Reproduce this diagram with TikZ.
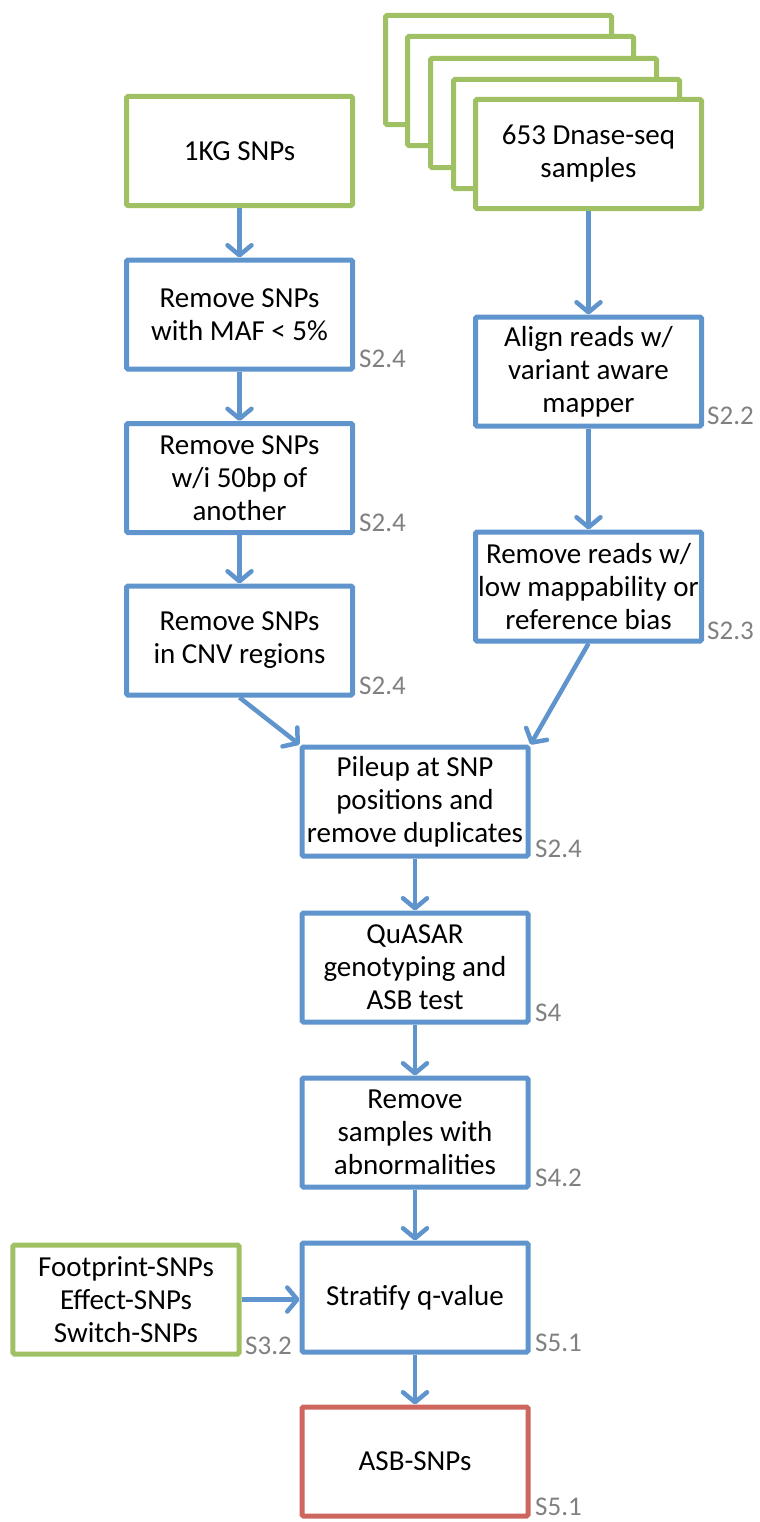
\documentclass[tikz,border=0pt]{standalone}
\usepackage{fontspec}
\setmainfont{Carlito}
\usetikzlibrary{arrows.meta}
\definecolor{bgreen}{RGB}{160,192,100}
\definecolor{bblue}{RGB}{96,148,204}
\definecolor{bred}{RGB}{206,102,96}
\definecolor{lblgray}{RGB}{128,128,128}
\tikzset{
 box/.style={draw=bblue, line width=5bp, fill=white, minimum width=226bp, minimum height=109bp, inner xsep=0pt, inner ysep=2bp, align=center, rounded corners=1.5bp, font=\fontsize{29bp}{33bp}\selectfont},
 gbox/.style={box, draw=bgreen},
 rbox/.style={box, draw=bred},
 flow/.style={draw=bblue, line width=4.5bp, -{Straight Barb[length=10bp,width=24bp,round]}},
 sec/.style={anchor=base west, text=lblgray, inner sep=0pt, font=\fontsize{27bp}{30bp}\selectfont},
}
\begin{document}
\begin{tikzpicture}[x=1bp,y=-1bp]
\useasboundingbox (0,0) rectangle (760,1522);
% left column
\node[gbox] (kg) at (239.5,151) {1KG SNPs};
\node[box] (maf) at (239.5,314.5) {Remove SNPs\\with MAF < 5\%};
\node[box] (w50) at (239.5,478) {Remove SNPs\\w/i 50bp of\\another};
\node[box] (cnv) at (239.5,640.5) {Remove SNPs\\in CNV regions};
% right column stack
\node[gbox] (s1) at (498.5,70) {};
\node[gbox] (s2) at (520.5,91) {};
\node[gbox] (s3) at (543.5,113) {};
\node[gbox] (s4) at (566.5,134) {};
\node[gbox] (dnase) at (588.5,154) {653 Dnase-seq\\samples};
\node[box] (align) at (588.5,371.5) {Align reads w/\\variant aware\\mapper};
\node[box] (reads) at (588.5,586.5) {Remove reads w/\\low mappability or\\reference bias};
% middle column
\node[box] (pileup) at (415,801.5) {Pileup at SNP\\positions and\\remove duplicates};
\node[box] (quasar) at (415,967.5) {QuASAR\\genotyping and\\ASB test};
\node[box] (samples) at (415,1132.5) {Remove\\samples with\\abnormalities};
\node[box] (strat) at (415,1297.5) {Stratify q-value};
\node[rbox] (asb) at (415,1461.5) {ASB-SNPs};
\node[gbox] (foot) at (126,1299.5) {Footprint-SNPs\\Effect-SNPs\\Switch-SNPs};
% connectors
\draw[flow] (kg) -- (maf);
\draw[flow] (maf) -- (w50);
\draw[flow] (w50) -- (cnv);
\draw[flow] (dnase) -- (align);
\draw[flow] (align) -- (reads);
\draw[flow] (cnv.south) -- (pileup.north west);
\draw[flow] (reads.south) -- (pileup.north east);
\draw[flow] (pileup) -- (quasar);
\draw[flow] (quasar) -- (samples);
\draw[flow] (samples) -- (strat);
\draw[flow] (strat) -- (asb);
\draw[flow] (foot.east) -- (foot.east -| strat.west);
% section labels
\node[sec] (l1) at (359,367) {S2.4};
\node[sec] (l2) at (359,531) {S2.4};
\node[sec] (l3) at (359,694) {S2.4};
\node[sec] (l4) at (707,424) {S2.2};
\node[sec] (l5) at (707,639) {S2.3};
\node[sec] (l6) at (535,857) {S2.4};
\node[sec] (l7) at (535,1021) {S4};
\node[sec] (l8) at (535,1186) {S4.2};
\node[sec] (l9) at (535,1351) {S5.1};
\node[sec] (l10) at (535,1515) {S5.1};
\node[sec] (l11) at (245,1354) {S3.2};
\end{tikzpicture}
\end{document}
